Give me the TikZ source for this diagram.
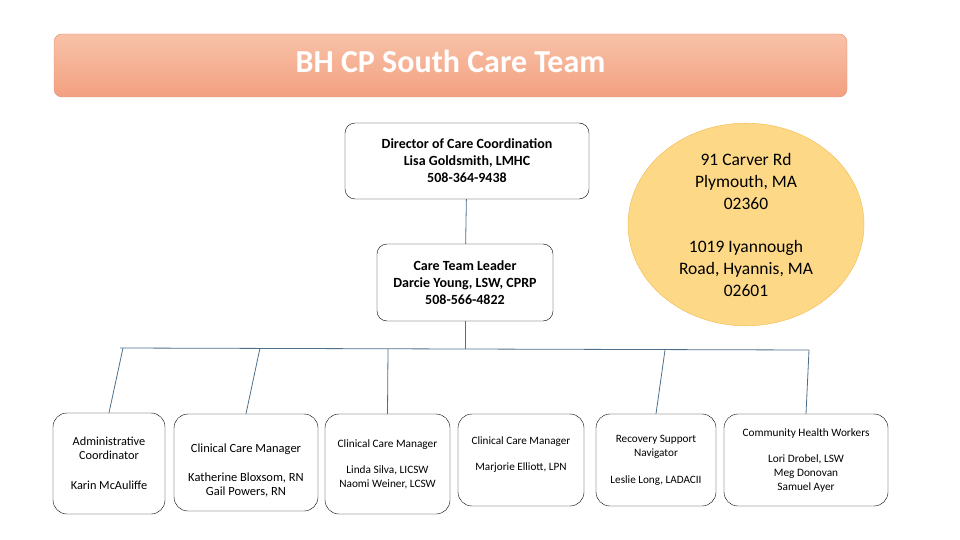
\documentclass[tikz,border=0pt]{standalone}
\usepackage{fontspec}
\setmainfont{Carlito}
\usetikzlibrary{shapes.geometric, calc}
\definecolor{bannertop}{HTML}{F8C2A8}
\definecolor{bannerbot}{HTML}{F3A080}
\definecolor{bannerline}{HTML}{E08E6B}
\definecolor{addrfill}{HTML}{FDD987}
\definecolor{addrline}{HTML}{F2B84B}
\definecolor{linkblue}{HTML}{4E6F8C}

\begin{document}
\begin{tikzpicture}[x=1pt, y=-1pt,
        banner/.style={draw=bannerline, rounded corners=8pt, top color=bannertop, bottom color=bannerbot, minimum width=793pt, minimum height=63pt, text depth=9pt, text=white, font=\fontsize{32}{36}\selectfont\bfseries},
        lead/.style={draw, rounded corners=10pt, align=center, inner sep=0pt, font=\fontsize{14}{17}\selectfont\bfseries},
        card/.style={draw, rounded corners=14pt, align=center, inner sep=0pt, font=\fontsize{#1}{14}\selectfont},
        addr/.style={draw=addrline, ellipse, fill=addrfill, inner sep=0pt, minimum width=236pt, minimum height=202pt, align=center, font=\fontsize{17.5}{22}\selectfont},
        link/.style={draw=linkblue, line width=0.8pt}
    ]
        \useasboundingbox (0,0) rectangle (960,540);

        \node[banner] (title) at (450.5,65.5) {BH CP South Care Team};

        \node[lead, minimum width=244pt, minimum height=76pt] (dir)  at (467,161)   {Director of Care Coordination\\Lisa Goldsmith, LMHC\\508-364-9438};
        \node[lead, minimum width=176pt, minimum height=77pt] (lead) at (465,282.5) {Care Team Leader\\Darcie Young, LSW, CPRP\\508-566-4822};
        \node[addr] (addr) at (746,224.5) {91 Carver Rd\\Plymouth, MA\\02360\\[21pt]1019 Iyannough\\Road, Hyannis, MA\\02601};

        % staff row
        \node[card=12.3, minimum width=112pt, minimum height=101pt] (admin) at (109,463.5) {Administrative\\Coordinator\\[16pt]Karin McAuliffe};
        \node[card=12.5, minimum width=144pt, minimum height=97pt]  (ccmA)  at (246,462.5) {\rule{0pt}{25pt}Clinical Care Manager\\[15pt]Katherine Bloxsom, RN\\Gail Powers, RN};
        \node[card=11.3, minimum width=125pt, minimum height=100pt] (ccmB)  at (387.5,464) {Clinical Care Manager\\[12pt]Linda Silva, LICSW\\Naomi Weiner, LCSW};
        \node[card=11.2, minimum width=126pt, minimum height=92pt, text depth=12pt] (ccmC) at (521,460) {Clinical Care Manager\\[12pt]Marjorie Elliott, LPN};
        \node[card=11.2, minimum width=120pt, minimum height=92pt]  (rsn)   at (656,460)   {Recovery Support\\Navigator\\[13pt]Leslie Long, LADACII};
        \node[card=11.3, minimum width=164pt, minimum height=92pt]  (chw)   at (806,460)   {Community Health Workers\\[12pt]Lori Drobel, LSW\\Meg Donovan\\Samuel Ayer};

        % bus
        \coordinate (busL) at (120,348);
        \coordinate (busR) at (809,350);
        \coordinate (tapA) at (123,348);
        \coordinate (tapB) at (260,348);
        \coordinate (tapC) at (388,349);
        \coordinate (tapD) at (665,350);

        \draw[link] (dir) -- (lead);
        \draw[link] (lead.south) -- (lead.south |- tapC);
        \draw[link] (busL) -- (busR);
        \draw[link] (tapA) -- (admin.north);
        \draw[link] (tapB) -- (ccmA.north);
        \draw[link] (tapC) -- (ccmB.north);
        \draw[link] (tapD) -- (rsn.north);
        \draw[link] (busR) -- (chw.north);
    \end{tikzpicture}
\end{document}
